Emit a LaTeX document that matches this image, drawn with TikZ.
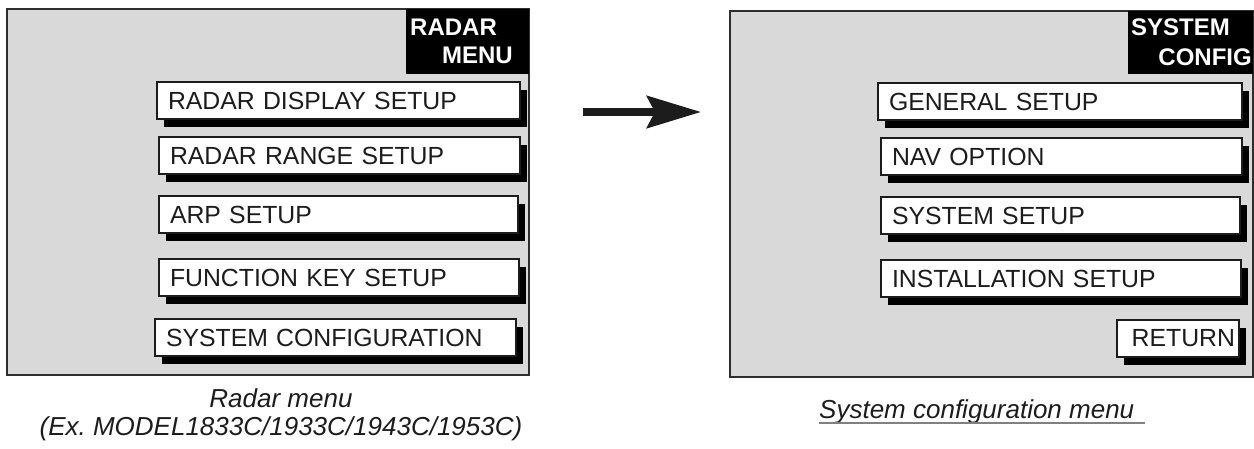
\documentclass[tikz,border=0pt]{standalone}
\usepackage{fontspec}
\setmainfont{Liberation Sans}
\usetikzlibrary{arrows.meta,shadows}
\definecolor{panelgray}{HTML}{D9D9D9}
\definecolor{edgegray}{HTML}{2E2E2E}
\definecolor{inkc}{HTML}{1C1C1C}
\definecolor{linegray}{HTML}{808080}
\begin{document}
\begin{tikzpicture}[x=1pt,y=-1pt,
  panel/.style={rectangle, draw=edgegray, line width=2.2pt, fill=panelgray, anchor=north west, inner sep=0pt, outer sep=0pt},
  menubtn/.style={rectangle, draw=inkc, line width=1.8pt, fill=white, anchor=north west, outer sep=0pt,
    inner xsep=11pt, inner ysep=0pt, minimum height=37pt, text width=#1, align=left,
    font=\fontsize{24.8}{28}\selectfont, text=inkc,
    drop shadow={shadow xshift=7pt, shadow yshift=-8pt, fill=black, opacity=1}},
  titlebox/.style={rectangle, fill=black, anchor=north east, inner sep=0pt, outer sep=0pt},
  titletext/.style={text=white, inner sep=0pt, font=\fontsize{24}{28}\selectfont\bfseries},
  captext/.style={text=inkc, inner sep=0pt, font=\fontsize{26}{30}\selectfont\itshape},
  bigarrow/.style={draw=inkc, line width=7.5pt, -{Stealth[length=54pt, width=32pt, inset=8pt, fill=inkc]}}
]
\useasboundingbox (0,0) rectangle (1254,448);

% ---------- left panel ----------
\node[panel, minimum width=522pt, minimum height=366pt] (lp) at (7,9) {};
\node[titlebox, minimum width=123pt, minimum height=65pt] (lt) at (lp.north east) {};
\node[titletext, anchor=base west] (ltr) at ([shift={(4,26)}]lt.north west) {RADAR};
\node[titletext, anchor=base east] (ltm) at ([shift={(-16,54)}]lt.north east) {MENU};

\node[menubtn=341pt] (l1) at (157,82) {RADAR DISPLAY SETUP};
\node[menubtn=339pt] (l2) at (159,137) {RADAR RANGE SETUP};
\node[menubtn=337pt] (l3) at (159,196) {ARP SETUP};
\node[menubtn=338pt] (l4) at (159,259) {FUNCTION KEY SETUP};
\node[menubtn=339pt] (l5) at (155,319) {SYSTEM CONFIGURATION};

\node[captext, anchor=base] (lc1) at (281,407) {Radar menu};
\node[captext, anchor=base] (lc2) at (281,435) {(Ex.\ MODEL1833C/1933C/1943C/1953C)};

% ---------- arrow ----------
\coordinate (arrs) at (583,112);
\coordinate (arre) at (701,112);
\draw[bigarrow] (arrs) -- (arre);

% ---------- right panel ----------
\node[panel, minimum width=523pt, minimum height=366pt] (rp) at (730,11) {};
\node[titlebox, minimum width=125pt, minimum height=63pt] (rt) at (rp.north east) {};
\node[titletext, anchor=base west] (rts) at ([shift={(3,24)}]rt.north west) {SYSTEM};
\node[titletext, anchor=base east] (rtc) at ([shift={(-1,54)}]rt.north east) {CONFIG};

\node[menubtn=342pt] (r1) at (878,83) {GENERAL SETUP};
\node[menubtn=339pt] (r2) at (881,138) {NAV OPTION};
\node[menubtn=337pt] (r3) at (881,197) {SYSTEM SETUP};
\node[menubtn=338pt] (r4) at (881,260) {INSTALLATION SETUP};
\node[menubtn=114pt, inner xsep=4pt, align=right] (r5) at (1117,320) {RETURN};

\node[captext, anchor=base west] (rc) at (819,418) {System configuration menu};
\draw[linegray, line width=1.3pt] ([yshift=-5pt]rc.base west) -- ([xshift=11pt, yshift=-5pt]rc.base east);
\end{tikzpicture}
\end{document}
